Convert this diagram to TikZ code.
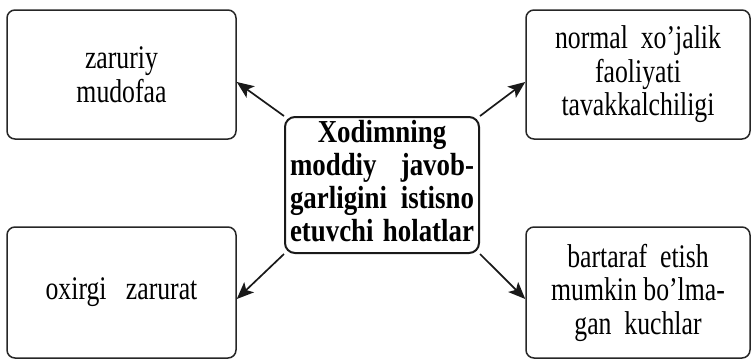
\documentclass[tikz,border=0pt]{standalone}
\usepackage{fontspec}
\setmainfont{Liberation Serif}
\newfontfamily\condreg[FakeStretch=0.78]{Liberation Serif}
\newfontfamily\condbold[FakeStretch=0.84]{Liberation Serif Bold}
\usetikzlibrary{arrows.meta}
\begin{document}
\begin{tikzpicture}[x=1pt,y=-1pt,
  outerbox/.style={draw=black!85, line width=1.5pt, rounded corners=8pt,
    inner sep=0pt, align=center, text=black,
    font=\condreg\fontsize{33}{33.5}\selectfont},
  centerbox/.style={draw=black!90, line width=2pt, rounded corners=10pt,
    inner sep=0pt, align=center, text=black,
    font=\condbold\fontsize{32}{33}\selectfont},
  arr/.style={draw=black!90, line width=1.7pt,
    -{Stealth[length=17pt,width=14pt,inset=4pt]}}]
\useasboundingbox (0,0) rectangle (753,360);
\node[outerbox, minimum width=229pt, minimum height=129pt] (tl) at (121.5,74.5)
  {zaruriy\\mudofaa};
\node[outerbox, minimum width=224pt, minimum height=129pt] (tr) at (638,74.5)
  {normal\ \ xo’jalik\\faoliyati\\tavakkalchiligi};
\node[outerbox, minimum width=229pt, minimum height=131pt] (bl) at (121.5,292.5)
  {oxirgi\ \ \ zarurat};
\node[outerbox, minimum width=224pt, minimum height=131pt] (br) at (638,292.5)
  {bartaraf\ \ etish\\mumkin\ bo’lma-\\gan\ \ kuchlar};
\node[centerbox, minimum width=194pt, minimum height=136pt] (c) at (382,185)
  {\begin{tabular}{@{}c@{}}
   Xodimning\\
   \hbox to 184pt{moddiy\hfil javob-}\\
   \hbox to 184pt{garligini\hfil istisno}\\
   \hbox to 184pt{etuvchi\hfil holatlar}
   \end{tabular}};
\draw[arr] (c.north west) -- ([yshift=-7.5pt]tl.east);
\draw[arr] (c.north east) -- ([yshift=-7.5pt]tr.west);
\draw[arr] (c.south west) -- ([yshift=-6.5pt]bl.east);
\draw[arr] (c.south east) -- ([yshift=-6.5pt]br.west);
\end{tikzpicture}
\end{document}
